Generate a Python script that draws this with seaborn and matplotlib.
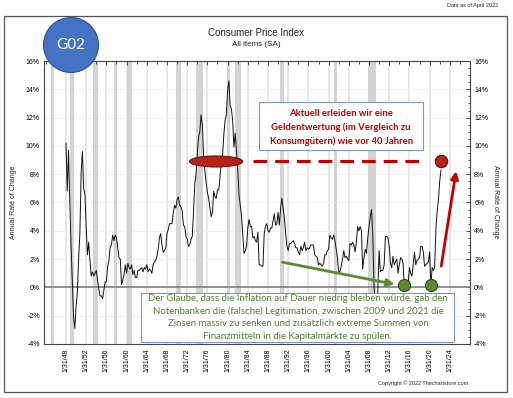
import numpy as np
import pandas as pd
import seaborn as sns
import matplotlib.pyplot as plt
from matplotlib.patches import Rectangle, Ellipse
from matplotlib.ticker import FixedLocator, FuncFormatter, MultipleLocator

# CPI, all items (SA), annual rate of change in % (quarterly, Jan/Apr/Jul/Oct)
start_year = 1948
cpi_yoy = [
    10.2, 6.8, 9.7, 6.1,      # 1948
    3.0, 0.4, -2.1, -2.9,     # 1949
    -1.3, -0.4, 2.0, 3.8,     # 1950
    8.1, 9.6, 7.0, 6.6,       # 1951
    4.3, 2.3, 3.2, 1.9,       # 1952
    0.8, 1.1, 0.8, 1.0,       # 1953
    1.2, 0.5, -0.1, -0.6,     # 1954
    -0.6, -0.8, -0.2, 0.4,    # 1955
    0.4, 1.5, 1.9, 2.9,       # 1956
    3.0, 3.7, 3.3, 3.7,       # 1957
    3.5, 2.8, 2.1, 2.0,       # 1958
    0.2, 0.5, 0.9, 1.6,       # 1959
    1.0, 1.7, 1.4, 1.3,       # 1960
    1.6, 0.9, 1.2, 0.7,       # 1961
    0.7, 1.2, 1.2, 1.3,       # 1962
    1.4, 1.1, 1.4, 1.3,       # 1963
    1.6, 1.1, 1.3, 1.2,       # 1964
    1.0, 1.6, 1.8, 1.9,       # 1965
    2.2, 2.7, 3.5, 3.8,       # 1966
    3.0, 2.5, 2.6, 2.8,       # 1967
    3.8, 4.1, 4.5, 4.5,       # 1968
    4.5, 5.3, 5.8, 5.6,       # 1969
    6.2, 6.4, 5.8, 5.7,       # 1970
    5.4, 4.4, 4.3, 3.6,       # 1971
    3.4, 2.9, 3.0, 3.4,       # 1972
    3.6, 5.3, 7.3, 8.0,       # 1973
    9.5, 10.6, 11.0, 12.2,    # 1974
    11.5, 9.3, 8.2, 7.4,      # 1975
    6.7, 6.3, 5.6, 5.0,       # 1976
    5.3, 6.8, 6.4, 6.3,       # 1977
    6.9, 6.9, 7.8, 8.9,       # 1978
    9.3, 10.8, 11.8, 12.2,    # 1979
    13.9, 14.6, 12.9, 12.6,   # 1980
    11.8, 9.9, 10.9, 9.6,     # 1981
    8.4, 6.6, 5.8, 5.1,       # 1982
    3.7, 2.4, 2.6, 2.9,       # 1983
    4.2, 4.8, 4.3, 4.3,       # 1984
    3.5, 3.6, 3.3, 3.2,       # 1985
    3.9, 1.6, 1.6, 1.5,       # 1986
    1.5, 3.8, 4.3, 4.5,       # 1987
    4.0, 3.9, 4.2, 4.2,       # 1988
    4.7, 5.2, 4.4, 4.5,       # 1989
    5.3, 4.4, 5.6, 6.3,       # 1990
    5.6, 4.9, 3.8, 2.9,       # 1991
    2.6, 3.1, 3.1, 3.2,       # 1992
    3.3, 3.1, 2.8, 2.8,       # 1993
    2.5, 2.3, 2.9, 2.6,       # 1994
    2.8, 3.2, 2.6, 2.8,       # 1995
    2.7, 2.8, 3.0, 3.0,       # 1996
    3.0, 2.3, 2.2, 2.1,       # 1997
    1.6, 1.7, 1.6, 1.5,       # 1998
    1.7, 2.3, 2.3, 2.6,       # 1999
    2.7, 3.7, 3.5, 3.4,       # 2000
    3.7, 3.3, 2.7, 2.1,       # 2001
    1.1, 1.1, 1.5, 2.0,       # 2002
    2.6, 2.1, 2.2, 2.0,       # 2003
    1.9, 3.1, 3.0, 3.2,       # 2004
    3.0, 2.5, 3.2, 4.3,       # 2005
    4.0, 4.3, 4.0, 1.3,       # 2006
    2.1, 2.7, 2.4, 3.5,       # 2007
    4.3, 5.0, 5.5, 3.7,       # 2008
    0.0, -1.3, -2.0, -0.2,    # 2009
    2.6, 1.1, 1.2, 1.2,       # 2010
    1.6, 3.6, 3.6, 3.5,       # 2011
    2.9, 1.7, 1.4, 2.2,       # 2012
    1.6, 1.8, 2.0, 1.0,       # 2013
    1.6, 2.1, 2.0, 1.7,       # 2014
    -0.1, 0.1, 0.2, 0.2,      # 2015
    1.4, 1.0, 0.8, 1.6,       # 2016
    2.5, 1.6, 1.9, 2.0,       # 2017
    2.1, 2.9, 2.9, 2.5,       # 2018
    1.5, 1.6, 1.7, 1.8,       # 2019
    2.5, 0.1, 1.4, 1.2,       # 2020
    1.4, 4.2, 5.4, 6.2,       # 2021
    7.5, 8.3,                 # 2022
]

# NBER recessions (decimal years)
rec_start = [1945.08, 1948.83, 1953.50, 1957.58, 1960.25, 1969.92, 1973.83,
             1980.00, 1981.50, 1990.50, 2001.17, 2007.92, 2020.08]
rec_end   = [1945.75, 1949.75, 1954.33, 1958.25, 1961.08, 1970.83, 1975.17,
             1980.50, 1982.83, 1991.17, 2001.83, 2009.42, 2020.25]

tick_years = list(range(1948, 2025, 4))
tick_labels = [f"1/31/{y % 100:02d}" for y in tick_years]

# annotation marks (decimal year, % level)
ellipse_xy = (1977.8, 8.9)
level_line = (1985.2, 2019.1, 8.9)
red_dot = (2022.3, 8.9)
green_dots_x = [2015.1, 2020.3]
green_dots_y = [0.2, 0.2]

red_text = ["Aktuell erleiden wir eine",
            "Geldentwertung (im Vergleich zu",
            "Konsumgütern) wie vor 40 Jahren"]
green_text = ["Der Glaube, dass die Inflation auf Dauer niedrig bleiben würde, gab den",
              "Notenbanken die (falsche) Legitimation, zwischen 2009 und 2021 die",
              "Zinsen massiv zu senken und zusätzlich extreme Summen von",
              "Finanzmitteln in die Kapitalmärkte zu spülen."]

df = pd.DataFrame({
    'year': start_year + 1 / 12 + np.arange(len(cpi_yoy)) * 0.25,
    'cpi': cpi_yoy,
})

sns.set_style("white")
plt.rcParams['font.family'] = ['Liberation Sans', 'DejaVu Sans']

W, H = 513, 398
fig = plt.figure(figsize=(W / 100, H / 100), dpi=100)
ax = fig.add_axes([44 / W, 1 - 344 / H, (470 - 44) / W, (344 - 61) / H])

# grid + recession shading
for t in tick_years:
    ax.axvline(t + 1 / 12, color='#e4e4e4', lw=1.3, zorder=0)
for y in range(-4, 17, 2):
    ax.axhline(y, color='#eeeeee', lw=0.6, zorder=0)
for s, e in zip(rec_start, rec_end):
    ax.axvspan(s, e, color='#d3d3d3', lw=0, zorder=0.5)
ax.axhline(0, color='#7f7f7f', lw=1.2, zorder=1)

sns.lineplot(data=df, x='year', y='cpi', color='#111111', lw=0.7, ax=ax, zorder=2)

ax.set_xlim(1943.73, 2028.08)
ax.set_ylim(-4, 16)
ax.xaxis.set_major_locator(FixedLocator([t + 1 / 12 for t in tick_years]))
ax.xaxis.set_minor_locator(FixedLocator([t + 1 / 12 for t in range(1944, 2028, 2)]))
ax.set_xticklabels(tick_labels, rotation=90, fontsize=5)
ax.yaxis.set_major_locator(MultipleLocator(2))
ax.yaxis.set_minor_locator(MultipleLocator(0.5))
ax.yaxis.set_major_formatter(FuncFormatter(lambda v, p: f"{int(v)}%"))
ax.tick_params(axis='both', which='both', direction='in', top=True, right=True,
               labelright=True, labelsize=5, width=0.6, colors='#333333', labelcolor='black')
ax.tick_params(which='major', length=3, pad=3)
ax.tick_params(which='minor', length=1.8)
ax.set_xlabel('')
ax.set_ylabel('Annual Rate of Change', fontsize=5, labelpad=6)
for sp in ax.spines.values():
    sp.set_color('#444444')
    sp.set_linewidth(0.8)

# annotations
anno = ['Lato', 'DejaVu Sans']
ax.add_patch(Ellipse(ellipse_xy, 10.5, 0.78, facecolor='#b8201a', edgecolor='#6e120d', lw=0.8, zorder=5))
ax.plot(level_line[:2], [level_line[2]] * 2, color='#c00000', lw=2.2, ls=(0, (4.5, 2.6)), zorder=5)
ax.scatter([red_dot[0]], [red_dot[1]], s=80, color='#b8201a', edgecolor='#5a0e0a', lw=0.8, zorder=6)
ax.scatter(green_dots_x, green_dots_y, s=75, color='#5b8a30', edgecolor='#2f4a18', lw=0.8, zorder=6)
ax.annotate('', xy=(2025.4, 8.41), xytext=(2022.3, 1.32),
            arrowprops=dict(arrowstyle='-|>', color='#c00000', lw=2, mutation_scale=11), zorder=6)
ax.annotate('', xy=(2013.7, 0.18), xytext=(1990.4, 1.82),
            arrowprops=dict(arrowstyle='-|>', color='#5b8a30', lw=2, mutation_scale=11), zorder=6)

ax.add_patch(Rectangle((1986.4, 9.69), 32.3, 3.4, facecolor='white', edgecolor='#7b93c8', lw=0.8, zorder=7))
for i, line in enumerate(red_text):
    ax.text(2002.55, 12.3 - i * 1.0, line, ha='center', va='center', fontsize=6.8,
            fontweight='bold', color='#c00000', family=anno, zorder=8)

ax.add_patch(Rectangle((1963.0, -3.86), 62.0, 3.48, facecolor='white', edgecolor='#7b93c8', lw=0.8, zorder=7))
for i, line in enumerate(green_text):
    ax.text(1994.0, -0.8 - i * 0.88, line, ha='center', va='center', fontsize=6.9,
            color='#538135', family=anno, zorder=8)

# figure decoration
fig.add_artist(Rectangle((4 / W, 1 - 392 / H), 503 / W, 376 / H, transform=fig.transFigure,
                         fill=False, edgecolor='#555555', lw=0.9))
fig.add_artist(Ellipse((71 / W, 1 - 45 / H), 55 / W, 55 / H, transform=fig.transFigure,
                       facecolor='#4472c4', edgecolor='#2f528f', lw=0.8, zorder=10))
fig.text(71 / W, 1 - 45 / H, 'G02', ha='center', va='center', fontsize=11, color='white',
         family=anno, zorder=11)
fig.text(256 / W, 1 - 33 / H, 'Consumer Price Index', ha='center', va='center', fontsize=7)
fig.text(256 / W, 1 - 44 / H, 'All items (SA)', ha='center', va='center', fontsize=5.8)
fig.text(498 / W, 1 - 5 / H, 'Data as of April 2022', ha='right', va='center', fontsize=4)
fig.text(468 / W, 1 - 383 / H, 'Copyright © 2022 Thechartstore.com', ha='right', va='center', fontsize=4)
fig.text(495 / W, 1 - 202 / H, 'Annual Rate of Change', ha='center', va='center',
         rotation=270, fontsize=5)

fig.savefig('out.png', dpi=100)
